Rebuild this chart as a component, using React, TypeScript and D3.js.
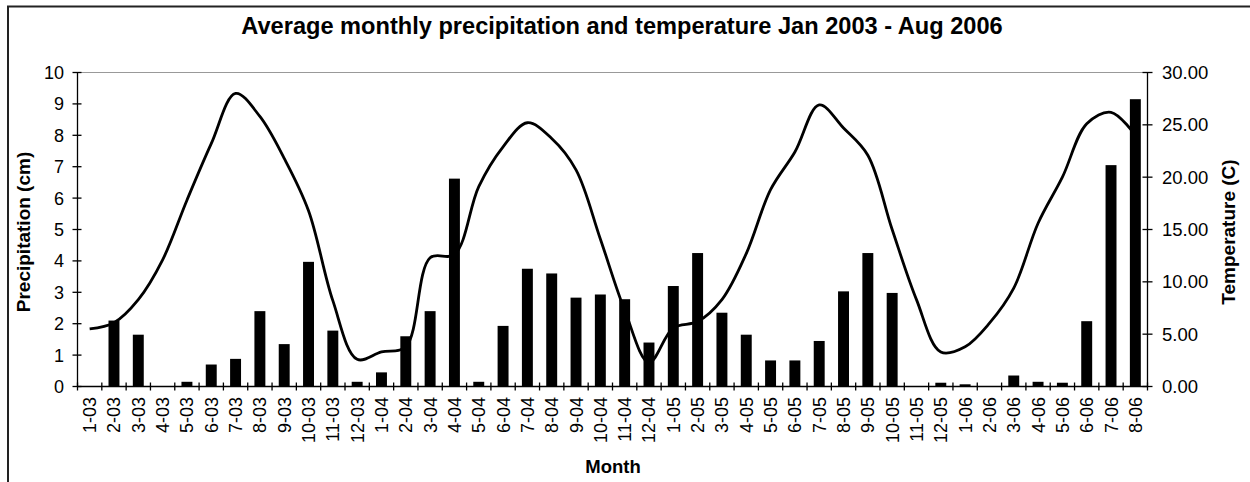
import React from "react";
import * as d3 from "d3";

// month labels (m-yy)
const months = [
  "1-03", "2-03", "3-03", "4-03", "5-03", "6-03", "7-03", "8-03", "9-03", "10-03", "11-03", "12-03",
  "1-04", "2-04", "3-04", "4-04", "5-04", "6-04", "7-04", "8-04", "9-04", "10-04", "11-04", "12-04",
  "1-05", "2-05", "3-05", "4-05", "5-05", "6-05", "7-05", "8-05", "9-05", "10-05", "11-05", "12-05",
  "1-06", "2-06", "3-06", "4-06", "5-06", "6-06", "7-06", "8-06",
];

// precipitation (cm), bars on left axis
const precipitation = [
  0, 2.1, 1.65, 0, 0.15, 0.7, 0.88, 2.4, 1.35, 3.97, 1.78, 0.15,
  0.45, 1.6, 2.4, 6.62, 0.15, 1.93, 3.75, 3.6, 2.83, 2.93, 2.78, 1.4,
  3.2, 4.25, 2.35, 1.65, 0.83, 0.83, 1.45, 3.03, 4.25, 2.98, 0, 0.12,
  0.07, 0, 0.35, 0.15, 0.12, 2.08, 7.05, 9.15,
];

// temperature (C), line on right axis
const temperature = [
  5.5, 6.1, 8.3, 12.1, 17.8, 23.2, 28.0, 25.8, 21.8, 16.8, 8.2, 2.6,
  3.3, 3.8, 12.3, 12.6, 19.1, 22.9, 25.2, 23.7, 20.7, 14.1, 7.3, 2.3,
  5.6, 6.2, 8.3, 12.7, 18.8, 22.4, 26.9, 24.7, 22.1, 15.0, 8.3, 3.3,
  3.8, 6.05, 9.4, 15.6, 20.0, 25.1, 26.2, 24.0,
];

const precipTicks = [0, 1, 2, 3, 4, 5, 6, 7, 8, 9, 10];
const tempTicks = [0, 5, 10, 15, 20, 25, 30];

const FONT = "'Liberation Sans', Arial, sans-serif";

export default function App() {
  const width = 1250;
  const height = 482;
  const left = 77.5;
  const right = 1147.5;
  const top = 72.5;
  const bottom = 386.5;

  const xScale = d3
    .scaleBand<string>()
    .domain(months)
    .range([left, right])
    .paddingInner(0.55)
    .paddingOuter(0.275);
  const step = xScale.step();
  const bw = xScale.bandwidth();
  const center = (m: string) => (xScale(m) as number) + bw / 2;

  const yLeft = d3.scaleLinear().domain([0, 10]).range([bottom, top]);
  const yRight = d3.scaleLinear().domain([0, 30]).range([bottom, top]);

  // smoothed line, close to Excel's smoothing
  const line = d3
    .line<number>()
    .x((_, i) => center(months[i]))
    .y((d) => yRight(d))
    .curve(d3.curveCatmullRom.alpha(0.5));

  // tick positions between categories
  const boundaries = d3.range(months.length + 1).map((k) => left + k * step);

  return (
    <svg
      width={width}
      height={height}
      style={{ position: "absolute", left: 0, top: 0, background: "#fff" }}
      fontFamily={FONT}
    >
      {/* outer frame */}
      <rect x={8} y={6.5} width={1260} height={500} fill="#fff" stroke="#222" strokeWidth={2} />

      {/* title */}
      <text x={622} y={34} textAnchor="middle" fontSize={23.6} fontWeight="bold">
        Average monthly precipitation and temperature Jan 2003 - Aug 2006
      </text>

      {/* plot area top border */}
      <line x1={left} x2={right} y1={top} y2={top} stroke="#999" strokeWidth={1} />

      {/* bars */}
      {precipitation.map((v, i) => (
        <rect
          key={months[i]}
          x={xScale(months[i])}
          y={yLeft(v)}
          width={bw}
          height={bottom - yLeft(v)}
          fill="#000"
        />
      ))}

      {/* temperature line */}
      <path d={line(temperature) || ""} fill="none" stroke="#000" strokeWidth={2.8} strokeLinejoin="round" />

      {/* left axis */}
      <line x1={left} x2={left} y1={top} y2={bottom} stroke="#000" strokeWidth={1.3} />
      {precipTicks.map((t) => (
        <g key={t}>
          <line x1={left - 5} x2={left + 4} y1={yLeft(t)} y2={yLeft(t)} stroke="#000" strokeWidth={1.3} />
          <text x={64} y={yLeft(t)} dy="0.36em" textAnchor="end" fontSize={18}>
            {t}
          </text>
        </g>
      ))}

      {/* right axis */}
      <line x1={right} x2={right} y1={top} y2={bottom} stroke="#000" strokeWidth={1.3} />
      {tempTicks.map((t) => (
        <g key={t}>
          <line x1={right - 5} x2={right + 5} y1={yRight(t)} y2={yRight(t)} stroke="#000" strokeWidth={1.3} />
          <text x={1162} y={yRight(t)} dy="0.36em" textAnchor="start" fontSize={18.5}>
            {t.toFixed(2)}
          </text>
        </g>
      ))}

      {/* x axis */}
      <line x1={left} x2={right} y1={bottom} y2={bottom} stroke="#000" strokeWidth={1.3} />
      {boundaries.map((b, k) => (
        <line key={k} x1={b} x2={b} y1={bottom - 4} y2={bottom + 4} stroke="#000" strokeWidth={1.3} />
      ))}
      {months.map((m) => (
        <text
          key={m}
          transform={`translate(${center(m) + 6.5},${397}) rotate(-90)`}
          textAnchor="end"
          fontSize={18}
        >
          {m}
        </text>
      ))}

      {/* axis titles */}
      <text x={613} y={473} textAnchor="middle" fontSize={18.5} fontWeight="bold">
        Month
      </text>
      <text
        transform={`translate(${30},${232}) rotate(-90)`}
        textAnchor="middle"
        fontSize={19}
        fontWeight="bold"
      >
        Precipitation (cm)
      </text>
      <text
        transform={`translate(${1235},${232}) rotate(-90)`}
        textAnchor="middle"
        fontSize={19}
        fontWeight="bold"
      >
        Temperature (C)
      </text>
    </svg>
  );
}
